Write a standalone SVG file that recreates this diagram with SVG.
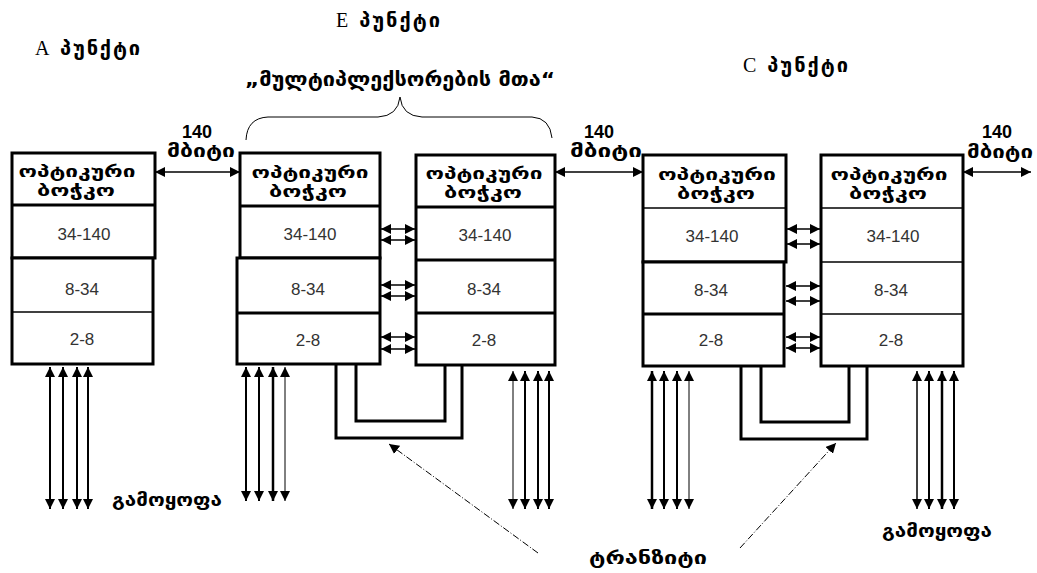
<svg xmlns="http://www.w3.org/2000/svg" width="1037" height="573" viewBox="0 0 1037 573">
<style>
.box{fill:#fff;stroke:#000;stroke-width:3}
.sep{stroke:#000;stroke-width:3}
.sep2{stroke:#000;stroke-width:1.5}
.geo{font-family:"DejaVu Sans",sans-serif;font-weight:bold;fill:#000}
.hdr{font-family:"DejaVu Sans",sans-serif;font-weight:bold;font-size:16px;fill:#000;text-anchor:middle}
.num{font-family:"Liberation Sans",sans-serif;font-size:17px;fill:#333;text-anchor:middle}
.lat{font-family:"Liberation Serif",serif;font-weight:normal;fill:#000}
.bit{font-family:"Liberation Sans",sans-serif;font-weight:bold;font-size:18px;fill:#000;text-anchor:middle}
.arr{stroke:#000;stroke-width:1.5;fill:none;marker-start:url(#ah);marker-end:url(#ah)}
.drop{stroke:#000;fill:none;marker-start:url(#ah);marker-end:url(#ah)}
.u{stroke:#000;stroke-width:3;fill:none}
.ptr{stroke:#000;stroke-width:1;fill:none;stroke-dasharray:7 2 1 2;marker-end:url(#ah)}
</style>
<defs>
<marker id="ah" viewBox="0 0 10 10" refX="10" refY="5" markerWidth="10" markerHeight="10" markerUnits="userSpaceOnUse" orient="auto-start-reverse">
<path d="M0,0 L10,5 L0,10 z" fill="#000"/>
</marker>
</defs>
<rect width="1037" height="573" fill="#fff"/>

<g id="labels">
<text x="35" y="55" class="geo" font-size="20" textLength="105" lengthAdjust="spacing"><tspan class="lat">A</tspan> პუნქტი</text>
<text x="336" y="27" class="geo" font-size="20" textLength="104" lengthAdjust="spacing"><tspan class="lat">E</tspan> პუნქტი</text>
<text x="743" y="72" class="geo" font-size="20" textLength="105" lengthAdjust="spacing"><tspan class="lat">C</tspan> პუნქტი</text>
<text x="245" y="86" class="geo" font-size="19" textLength="310" lengthAdjust="spacingAndGlyphs">„მულტიპლექსორების მთა“</text>
<text x="112" y="506" class="geo" font-size="18" textLength="110" lengthAdjust="spacingAndGlyphs">გამოყოფა</text>
<text x="882" y="537" class="geo" font-size="18" textLength="110" lengthAdjust="spacingAndGlyphs">გამოყოფა</text>
<text x="589" y="564" class="geo" font-size="18" textLength="118" lengthAdjust="spacingAndGlyphs">ტრანზიტი</text>
<text x="197" y="138" class="bit">140</text>
<text x="201" y="157" class="geo" font-size="17" text-anchor="middle" textLength="68" lengthAdjust="spacingAndGlyphs">მბიტი</text>
<text x="599" y="138" class="bit">140</text>
<text x="606" y="157" class="geo" font-size="17" text-anchor="middle" textLength="72" lengthAdjust="spacingAndGlyphs">მბიტი</text>
<text x="997" y="138" class="bit">140</text>
<text x="1000" y="158" class="geo" font-size="17" text-anchor="middle" textLength="66" lengthAdjust="spacingAndGlyphs">მბიტი</text>
</g>

<g id="nodeA">
<rect class="box" x="12" y="153" width="143" height="105"/>
<rect class="box" x="12" y="258" width="141" height="106"/>
<line class="sep" x1="12" y1="205" x2="155" y2="205"/>
<line class="sep2" x1="12" y1="312" x2="153" y2="312"/>
<text class="hdr" x="77" y="177" textLength="117" lengthAdjust="spacingAndGlyphs">ოპტიკური</text>
<text class="hdr" x="76" y="196" textLength="78" lengthAdjust="spacingAndGlyphs">ბოჭკო</text>
<text class="num" x="84" y="240">34-140</text>
<text class="num" x="82" y="295">8-34</text>
<text class="num" x="82" y="345">2-8</text>
</g>

<g id="nodeB1">
<rect class="box" x="240" y="153" width="140" height="105"/>
<rect class="box" x="237" y="258" width="143" height="106"/>
<line class="sep" x1="240" y1="206" x2="380" y2="206"/>
<line class="sep" x1="237" y1="313" x2="380" y2="313"/>
<text class="hdr" x="310" y="178" textLength="117" lengthAdjust="spacingAndGlyphs">ოპტიკური</text>
<text class="hdr" x="308" y="197" textLength="78" lengthAdjust="spacingAndGlyphs">ბოჭკო</text>
<text class="num" x="310" y="240">34-140</text>
<text class="num" x="308" y="295">8-34</text>
<text class="num" x="308" y="346">2-8</text>
</g>

<g id="nodeB2">
<rect class="box" x="416" y="155" width="139" height="210"/>
<line class="sep" x1="416" y1="207" x2="555" y2="207"/>
<line class="sep" x1="416" y1="260" x2="555" y2="260"/>
<line class="sep" x1="416" y1="313" x2="555" y2="313"/>
<text class="hdr" x="484" y="179" textLength="117" lengthAdjust="spacingAndGlyphs">ოპტიკური</text>
<text class="hdr" x="483" y="198" textLength="78" lengthAdjust="spacingAndGlyphs">ბოჭკო</text>
<text class="num" x="485" y="241">34-140</text>
<text class="num" x="484" y="295">8-34</text>
<text class="num" x="484" y="346">2-8</text>
</g>

<g id="nodeC1">
<rect class="box" x="643" y="155" width="143" height="107"/>
<rect class="box" x="643" y="262" width="141" height="104"/>
<line class="sep2" x1="643" y1="208" x2="786" y2="208"/>
<line class="sep" x1="643" y1="314" x2="784" y2="314"/>
<text class="hdr" x="717" y="180" textLength="118" lengthAdjust="spacingAndGlyphs">ოპტიკური</text>
<text class="hdr" x="716" y="199" textLength="78" lengthAdjust="spacingAndGlyphs">ბოჭკო</text>
<text class="num" x="712" y="242">34-140</text>
<text class="num" x="711" y="296">8-34</text>
<text class="num" x="711" y="346">2-8</text>
</g>

<g id="nodeC2">
<rect class="box" x="821" y="155" width="142" height="211"/>
<line class="sep2" x1="821" y1="208" x2="963" y2="208"/>
<line class="sep2" x1="821" y1="262" x2="963" y2="262"/>
<line class="sep2" x1="821" y1="314" x2="963" y2="314"/>
<text class="hdr" x="889" y="180" textLength="117" lengthAdjust="spacingAndGlyphs">ოპტიკური</text>
<text class="hdr" x="888" y="199" textLength="78" lengthAdjust="spacingAndGlyphs">ბოჭკო</text>
<text class="num" x="893" y="242">34-140</text>
<text class="num" x="891" y="296">8-34</text>
<text class="num" x="891" y="346">2-8</text>
</g>

<g id="connectors">
<path d="M246,140 Q247,118 268,117 L378,117 Q398,116 400,97 Q402,116 422,117 L532,117 Q550,118 552,138" fill="none" stroke="#000" stroke-width="1"/>
<line class="arr" x1="155" y1="172" x2="240" y2="172"/>
<line class="arr" x1="555" y1="172" x2="643" y2="172"/>
<line class="arr" x1="963" y1="172" x2="1031" y2="172"/>

<line class="arr" x1="381" y1="229" x2="415" y2="229"/>
<line class="arr" x1="381" y1="240" x2="415" y2="240"/>
<line class="arr" x1="381" y1="285" x2="415" y2="285"/>
<line class="arr" x1="381" y1="296" x2="415" y2="296"/>
<line class="arr" x1="381" y1="337" x2="415" y2="337"/>
<line class="arr" x1="381" y1="349" x2="415" y2="349"/>

<line class="arr" x1="787" y1="229" x2="820" y2="229"/>
<line class="arr" x1="787" y1="244" x2="820" y2="244"/>
<line class="arr" x1="786" y1="286" x2="820" y2="286"/>
<line class="arr" x1="786" y1="301" x2="820" y2="301"/>
<line class="arr" x1="786" y1="337" x2="820" y2="337"/>
<line class="arr" x1="786" y1="348" x2="820" y2="348"/>

<line class="drop" stroke-width="2" x1="50" y1="367" x2="50" y2="509"/>
<line class="drop" stroke-width="2" x1="63" y1="367" x2="63" y2="509"/>
<line class="drop" stroke-width="2" x1="77" y1="367" x2="77" y2="509"/>
<line class="drop" stroke-width="2" x1="88" y1="367" x2="88" y2="509"/>

<line class="drop" stroke-width="2" x1="246" y1="367" x2="246" y2="501"/>
<line class="drop" stroke-width="2" x1="259" y1="367" x2="259" y2="501"/>
<line class="drop" stroke-width="2.5" x1="273" y1="367" x2="273" y2="501"/>
<line class="drop" stroke-width="1" x1="285" y1="367" x2="285" y2="501"/>

<line class="drop" stroke-width="1" x1="513" y1="371" x2="513" y2="509"/>
<line class="drop" stroke-width="2" x1="525" y1="371" x2="525" y2="509"/>
<line class="drop" stroke-width="2" x1="538" y1="371" x2="538" y2="509"/>
<line class="drop" stroke-width="2" x1="549" y1="371" x2="549" y2="509"/>

<line class="drop" stroke-width="2.5" x1="652" y1="371" x2="652" y2="509"/>
<line class="drop" stroke-width="2" x1="664" y1="371" x2="664" y2="509"/>
<line class="drop" stroke-width="2" x1="677" y1="371" x2="677" y2="509"/>
<line class="drop" stroke-width="1" x1="689" y1="371" x2="689" y2="509"/>

<line class="drop" stroke-width="1.5" x1="917" y1="371" x2="917" y2="509"/>
<line class="drop" stroke-width="2" x1="929" y1="371" x2="929" y2="509"/>
<line class="drop" stroke-width="2.5" x1="942" y1="371" x2="942" y2="509"/>
<line class="drop" stroke-width="2" x1="954" y1="371" x2="954" y2="509"/>

<polyline class="u" points="336,364 336,438 462,438 462,365"/>
<polyline class="u" points="356,364 356,421 445,421 445,365"/>
<polyline class="u" points="741,366 741,439 867,439 867,366"/>
<polyline class="u" points="761,366 761,422 849,422 849,366"/>

<line class="ptr" x1="538" y1="553" x2="389" y2="444"/>
<line class="ptr" x1="740" y1="548" x2="836" y2="443"/>
</g>
</svg>
